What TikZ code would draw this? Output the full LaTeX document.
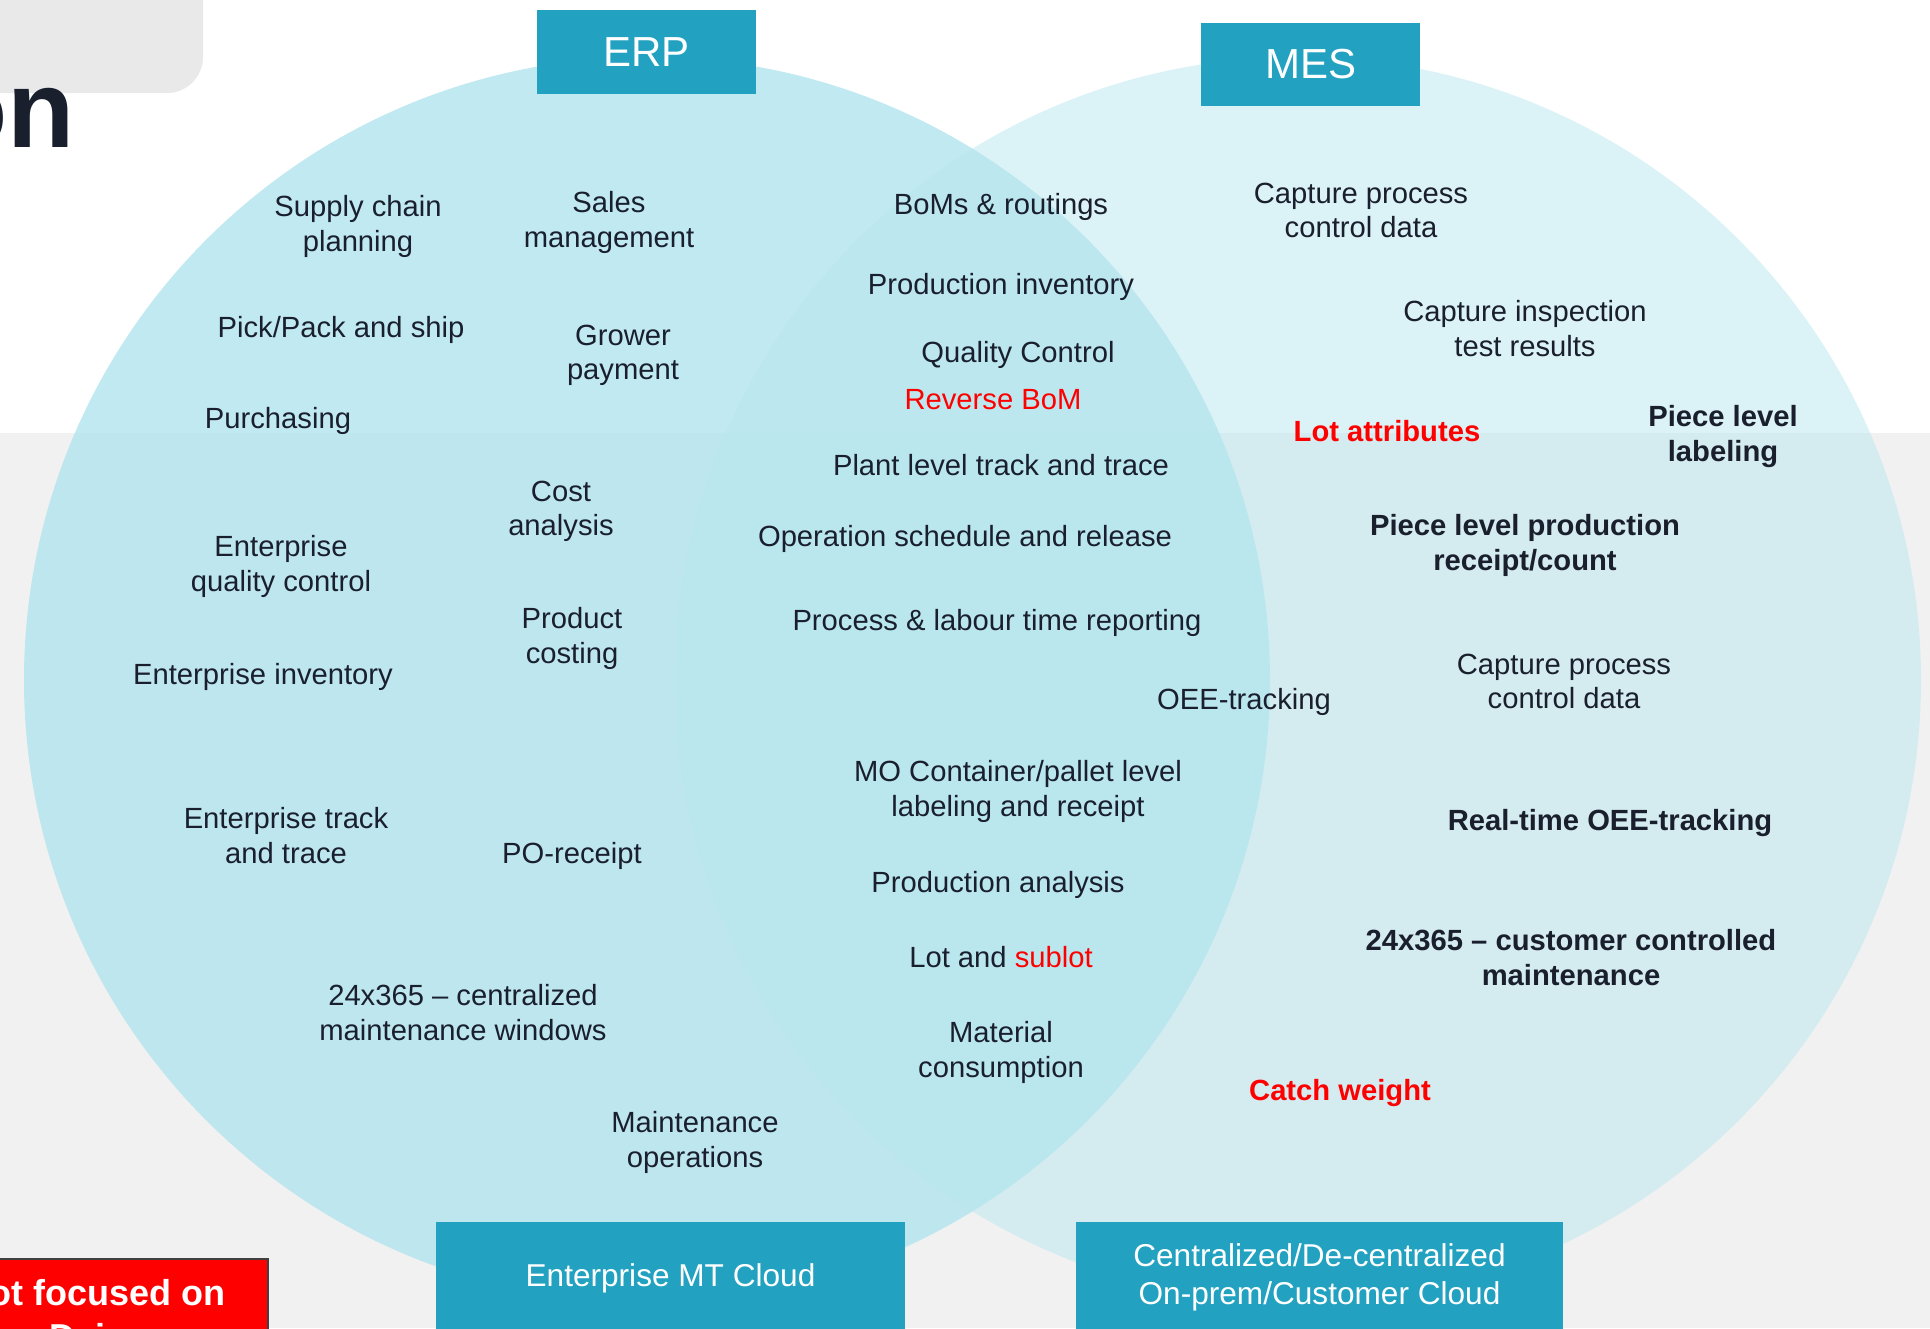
\documentclass[tikz,border=0pt]{standalone}
\usepackage{fontspec}
\setmainfont{Liberation Sans}
\definecolor{ink}{RGB}{26,31,46}
\definecolor{hotred}{RGB}{255,0,0}
\definecolor{tagblue}{RGB}{34,162,192}
\definecolor{erpfill}{RGB}{176,228,238}
\definecolor{mesfill}{RGB}{185,231,239}
\definecolor{paper}{RGB}{241,241,241}
\definecolor{tabgrey}{RGB}{233,233,233}

\begin{document}
\begin{tikzpicture}
[x=0.5pt,y=-0.5pt,
item/.style={align=center,text=ink,inner sep=0pt,yshift=-1.75pt,font=\fontsize{14.6}{17.3}\selectfont},
strong/.style={item,font=\fontsize{14.6}{17.3}\selectfont\bfseries},
hot/.style={text=hotred},
tag/.style={fill=tagblue,text=white,inner sep=0pt,align=center,font=\fontsize{15.8}{19}\selectfont}]
\useasboundingbox (0,0) rectangle (1930,1328);
\clip (0,0) rectangle (1930,1328);
% page background
\fill[white] (0,0) rectangle (1930,433);
\fill[paper] (0,433) rectangle (1930,1328);
\fill[tabgrey,rounded corners=18pt] (-60,-60) rectangle (203,93);
\node[anchor=base east,inner sep=0pt,text=ink,font=\fontsize{55}{60}\selectfont\bfseries] (title) at (75,147) {on};
% the two sets
\fill[erpfill,fill opacity=0.79] (647,680) circle [radius=623];
\fill[mesfill,fill opacity=0.5] (1298,680) circle [radius=623];
% set headers and footers
\node[tag,minimum width=109.5pt,minimum height=42pt,font=\fontsize{21}{24}\selectfont] (erp) at (646.5,52) {ERP};
\node[tag,minimum width=109.5pt,minimum height=41.5pt,font=\fontsize{21}{24}\selectfont] (mes) at (1310.5,64.5) {MES};
\node[tag,minimum width=234.5pt,minimum height=56pt] (mtcloud) at (670.5,1278) {Enterprise MT Cloud};
\node[tag,minimum width=243.5pt,minimum height=55pt] (onprem) at (1319.5,1277) {Centralized/De-centralized\\On-prem/Customer Cloud};
% ERP only
\node[item] (supply) at (358,223) {Supply chain\\planning};
\node[item] (sales) at (609,219) {Sales\\management};
\node[item] (pick) at (341,326) {Pick/Pack and ship};
\node[item] (grower) at (623,352) {Grower\\payment};
\node[item] (purch) at (278,417) {Purchasing};
\node[item] (cost) at (561,508) {Cost\\analysis};
\node[item] (entqc) at (281,563) {Enterprise\\quality control};
\node[item] (prodcost) at (572,635) {Product\\costing};
\node[item] (entinv) at (263,673) {Enterprise inventory};
\node[item] (enttrace) at (286,832) {Enterprise track\\and trace};
\node[item] (poreceipt) at (572,852) {PO-receipt};
\node[item] (centmaint) at (463,1009) {24x365 -- centralized\\maintenance windows};
\node[item] (maintops) at (695,1139) {Maintenance\\operations};
% shared
\node[item] (boms) at (1001,203) {BoMs \& routings};
\node[item] (prodinv) at (1001,283) {Production inventory};
\node[item] (qc) at (1018,351) {Quality Control};
\node[item,hot] (revbom) at (993,396) {Reverse BoM};
\node[item] (planttrace) at (1001,462) {Plant level track and trace};
\node[item] (opsched) at (965,535) {Operation schedule and release};
\node[item] (labour) at (997,619) {Process \& labour time reporting};
\node[item] (oee) at (1244,698) {OEE-tracking};
\node[item] (mocont) at (1018,788) {MO Container/pallet level\\labeling and receipt};
\node[item] (prodan) at (998,881) {Production analysis};
\node[item] (lot) at (1001,954) {Lot and \textcolor{hotred}{sublot}};
\node[item] (matcons) at (1001,1049) {Material\\consumption};
% MES only
\node[item] (capproc) at (1361,207) {Capture process\\control data};
\node[item] (capinsp) at (1525,325) {Capture inspection\\test results};
\node[strong,hot] (lotattr) at (1387,428) {Lot attributes};
\node[strong] (piecelab) at (1723,433) {Piece level\\labeling};
\node[strong] (piececount) at (1525,542) {Piece level production\\receipt/count};
\node[item] (capproc2) at (1564,678) {Capture process\\control data};
\node[strong] (rtoee) at (1610,819) {Real-time OEE-tracking};
\node[strong] (custmaint) at (1571,954) {24x365 -- customer controlled\\maintenance};
\node[strong,hot] (catch) at (1340,1089) {Catch weight};
% note box
\filldraw[fill=hotred,draw=darkgray,line width=1pt] (-20,1259) rectangle (268,1360);
\node[anchor=north,inner sep=0pt,align=center,text=white,font=\fontsize{18}{22}\selectfont\bfseries] (note) at (95,1279) {Not focused on\\Dairy};
\end{tikzpicture}
\end{document}
